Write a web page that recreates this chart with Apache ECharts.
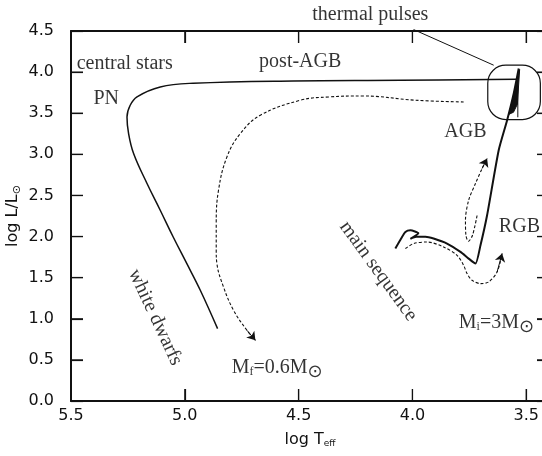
<!DOCTYPE html>
<html>
<head>
<meta charset="utf-8">
<script src="https://cdn.jsdelivr.net/npm/echarts@6/dist/echarts.min.js"></script>
<style>
html, body { margin: 0; padding: 0; overflow: hidden; background: #fff; }
#chart { width: 552px; height: 456px; }
</style>
</head>
<body>
<div id="chart"></div>
<script>
// points are [log Teff, log L/Lsun]
var postAgbSolid = [[3.543, 3.914], [4.053, 3.900], [4.523, 3.893], [4.963, 3.865], [5.108, 3.820],
  [5.210, 3.700], [5.240, 3.597], [5.254, 3.455], [5.247, 3.253], [5.225, 3.010], [5.166, 2.645],
  [5.108, 2.320], [5.051, 1.995], [4.991, 1.670], [4.932, 1.347], [4.856, 0.880]];
var postAgbDotted = [[3.775, 3.637], [3.988, 3.658], [4.216, 3.710], [4.368, 3.698], [4.492, 3.658],
  [4.668, 3.476], [4.756, 3.253], [4.815, 2.968], [4.852, 2.563], [4.862, 2.158], [4.862, 1.834],
  [4.859, 1.672], [4.830, 1.387], [4.786, 1.103], [4.727, 0.860], [4.690, 0.738]];
var agbTrack = [[4.075, 1.854], [4.049, 1.979], [4.031, 2.056], [4.009, 2.077], [3.974, 2.040],
  [4.009, 1.973], [3.983, 1.998], [3.943, 1.998], [3.907, 1.976], [3.848, 1.915], [3.789, 1.813],
  [3.753, 1.732], [3.723, 1.672], [3.701, 1.894], [3.672, 2.259], [3.621, 3.050], [3.584, 3.415],
  [3.555, 3.740], [3.533, 4.044]];
var lowerDotted = [[4.031, 1.854], [3.995, 1.915], [3.936, 1.934], [3.863, 1.873], [3.804, 1.772],
  [3.775, 1.650], [3.760, 1.550], [3.738, 1.468], [3.701, 1.428], [3.665, 1.448], [3.628, 1.569],
  [3.606, 1.793]];
var loopTrack = [[3.716, 2.256], [3.736, 2.016], [3.754, 1.943], [3.765, 2.016], [3.767, 2.198],
  [3.753, 2.442], [3.723, 2.645], [3.694, 2.827], [3.672, 2.949]];
var pulseWedge = [[3.529, 4.032], [3.576, 3.487], [3.556, 3.512], [3.539, 3.609]];
var pulseStem = [[3.537, 3.804], [3.537, 3.451]];
var pulseBox = [3.438, 3.423, 3.669, 4.084];
var pulseLeader = [[3.995, 4.518], [3.643, 4.084]];

var xTicks = [3.5, 4.0, 4.5, 5.0];
var xLabels = [3.5, 4.0, 4.5, 5.0, 5.5];
var yTicks = [0.5, 1.0, 1.5, 2.0, 2.5, 3.0, 3.5, 4.0];

var notes = [
  ['thermal pulses', 4.185, 4.692, 0],
  ['central stars', 5.264, 4.096, 0],
  ['post-AGB', 4.493, 4.124, 0],
  ['PN', 5.345, 3.670, 0],
  ['AGB', 3.767, 3.269, 0],
  ['RGB', 3.530, 2.125, 0],
  ['M{s|i}=3M{sun|⊙}', 3.631, 0.957, 0],
  ['M{s|f}=0.6M{sun|⊙}', 4.594, 0.410, 0],
  ['white dwarfs', 5.130, 1.018, -65],
  ['main sequence', 4.150, 1.578, -54]
];

var xMin = 3.4, xMax = 5.5, yMin = 0, yMax = 4.5;
var ink = '#111';
var sans = 'DejaVu Sans';
var serif = 'Liberation Serif';

// inward tick marks on all four sides: [x, y, side]
var tickMarks = [];
xTicks.forEach(function (v) { tickMarks.push([v, yMin, 0], [v, yMax, 1]); });
yTicks.forEach(function (v) { tickMarks.push([xMax, v, 2], [xMin, v, 3]); });

function arrowEnd(pts) {
  var n = pts.length;
  return {
    silent: true,
    symbol: ['none', 'arrow'],
    symbolSize: 8,
    label: { show: false },
    lineStyle: { type: 'solid', width: 1, color: ink },
    data: [[{ coord: pts[n - 2] }, { coord: pts[n - 1] }]]
  };
}

function lineSeries(pts, width, type, smooth) {
  return {
    type: 'line',
    data: pts,
    showSymbol: false,
    smooth: smooth,
    clip: false,
    lineStyle: { color: ink, width: width, type: type },
    z: 3
  };
}

function xFrame(pos) {
  return {
    type: 'value', inverse: true, min: xMin, max: xMax, position: pos, z: 10,
    splitLine: { show: false },
    axisLine: { show: true, onZero: false, lineStyle: { color: ink, width: 2 } },
    axisTick: { show: true, inside: true, length: 12, customValues: xTicks, lineStyle: { color: ink, width: 1.2 } },
    axisLabel: { show: false }
  };
}
function yFrame(pos) {
  return {
    type: 'value', min: yMin, max: yMax, interval: 0.5, position: pos, z: 10,
    splitLine: { show: false },
    axisLine: { show: true, onZero: false, lineStyle: { color: ink, width: 2 } },
    axisTick: { show: true, inside: true, length: 12, lineStyle: { color: ink, width: 1.2 } },
    axisLabel: { show: false }
  };
}

var chart = echarts.init(document.getElementById('chart'));

var option = {
  animation: false,
  grid: { left: 71, right: 3, top: 31, bottom: 55, containLabel: false, outerBoundsMode: 'none' },
  xAxis: [
    {
      type: 'value', inverse: true, min: xMin, max: xMax, position: 'bottom',
      splitLine: { show: false },
      axisLine: { show: false, onZero: false },
      axisTick: { show: false },
      name: 'log T{s|eff}',
      nameLocation: 'middle',
      nameGap: 30,
      nameMoveOverlap: false,
      nameTextStyle: {
        color: ink, fontFamily: sans, fontSize: 16,
        rich: { s: { fontSize: 9, fontFamily: sans, color: ink, padding: [8, 0, 0, 0] } }
      },
      axisLabel: {
        customValues: xLabels, margin: 7, color: ink, fontFamily: sans, fontSize: 16,
        formatter: function (v) { return v.toFixed(1); }
      }
    },
    xFrame('bottom'),
    xFrame('top')
  ],
  yAxis: [
    {
      type: 'value', min: yMin, max: yMax, interval: 0.5, position: 'left',
      splitLine: { show: false },
      axisLine: { show: false, onZero: false },
      axisTick: { show: false },
      name: 'log L/L{s|⊙}',
      nameLocation: 'middle',
      nameGap: 48,
      nameMoveOverlap: false,
      nameRotate: 90,
      nameTextStyle: {
        color: ink, fontFamily: sans, fontSize: 16,
        rich: { s: { fontSize: 11, fontFamily: sans, color: ink, padding: [9, 0, 0, 0] } }
      },
      axisLabel: {
        margin: 17, color: ink, fontFamily: sans, fontSize: 16,
        formatter: function (v) { return v.toFixed(1); }
      }
    },
    yFrame('left'),
    yFrame('right')
  ],
  series: [
    lineSeries(postAgbSolid, 1.5, 'solid', 0.4),
    Object.assign(lineSeries(postAgbDotted, 1.1, [3, 2], 0.4), { markLine: arrowEnd(postAgbDotted) }),
    lineSeries(agbTrack, 2, 'solid', 0.2),
    Object.assign(lineSeries(lowerDotted, 1.1, [3, 2], 0.3), { markLine: arrowEnd(lowerDotted) }),
    Object.assign(lineSeries(loopTrack, 1.1, [3, 2], 0.3), { markLine: arrowEnd(loopTrack) }),
    lineSeries(pulseLeader, 1, 'solid', false),
    lineSeries(pulseStem, 1, 'solid', false),
    {
      type: 'custom',
      data: tickMarks,
      dimensions: ['x', 'y', 'side'],
      encode: { x: 0, y: 1 },
      clip: false,
      silent: true,
      z: 10,
      renderItem: function (params, api) {
        var p = api.coord([api.value(0), api.value(1)]);
        var side = api.value(2);
        var dx = side === 2 ? 12 : (side === 3 ? -12 : 0);
        var dy = side === 0 ? -12 : (side === 1 ? 12 : 0);
        return {
          type: 'line',
          shape: { x1: p[0], y1: p[1], x2: p[0] + dx, y2: p[1] + dy },
          style: { stroke: ink, lineWidth: 1.2 }
        };
      }
    },
    {
      type: 'custom',
      data: [pulseBox],
      encode: { x: [0, 2], y: [1, 3] },
      z: 4,
      renderItem: function (params, api) {
        var a = api.coord([api.value(0), api.value(3)]);
        var b = api.coord([api.value(2), api.value(1)]);
        var x0 = Math.min(a[0], b[0]), y0 = Math.min(a[1], b[1]);
        var w = Math.abs(a[0] - b[0]), h = Math.abs(a[1] - b[1]);
        return {
          type: 'group',
          children: [
            {
              type: 'rect',
              shape: { x: x0, y: y0, width: w, height: h, r: 18 },
              style: { fill: 'none', stroke: ink, lineWidth: 1.2 }
            },
            {
              type: 'polygon',
              shape: { points: pulseWedge.map(function (p) { return api.coord(p); }) },
              style: { fill: ink, stroke: ink, lineWidth: 1 }
            }
          ]
        };
      }
    },
    {
      type: 'scatter',
      symbolSize: 0,
      clip: false,
      silent: true,
      z: 5,
      data: notes.map(function (n) {
        return {
          value: [n[1], n[2]],
          label: { formatter: n[0], rotate: n[3] }
        };
      }),
      label: {
        show: true,
        position: 'inside',
        color: '#000',
        fontFamily: serif,
        fontSize: 20,
        rich: {
          s: { fontFamily: serif, fontSize: 12, color: '#000', padding: [10, 0, 0, 0] },
          sun: { fontFamily: sans, fontSize: 18, color: '#000', padding: [10, 0, 0, 0] }
        }
      }
    }
  ]
};

chart.setOption(option);
</script>
</body>
</html>
